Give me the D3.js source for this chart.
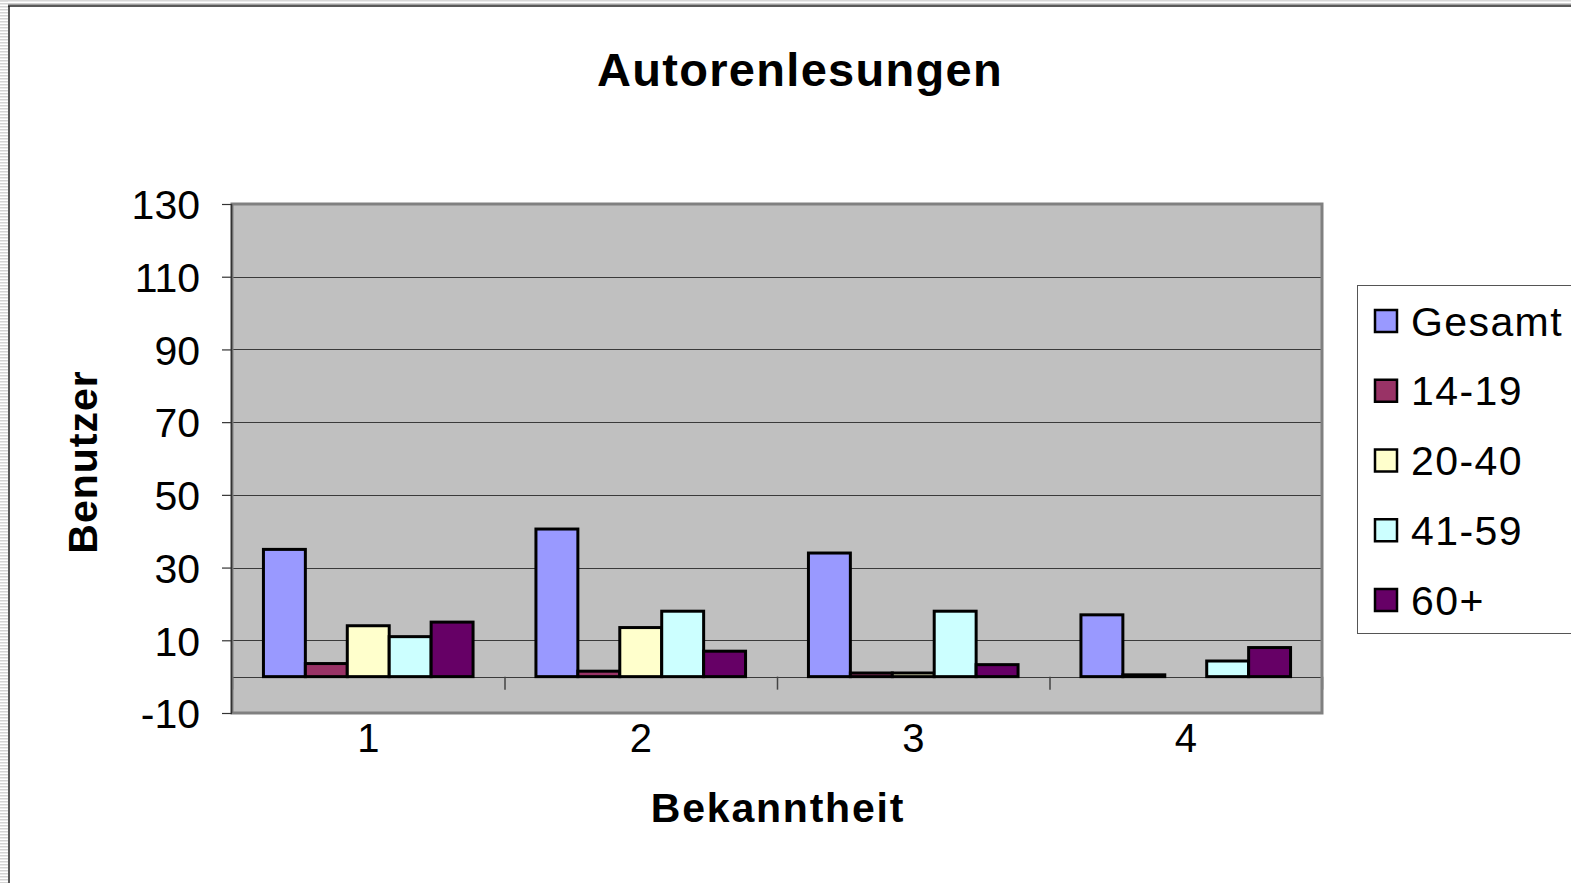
<!DOCTYPE html>
<html>
<head>
<meta charset="utf-8">
<script src="https://cdn.jsdelivr.net/npm/d3@7/dist/d3.min.js"></script>
<style>
  html, body { margin: 0; padding: 0; background: #fff; overflow: hidden; }
  svg { display: block; font-family: "Liberation Sans", Arial, sans-serif; }
</style>
</head>
<body>
<svg id="chart" width="1571" height="883"></svg>
<script>
// ---- data ----
const categories = ["1", "2", "3", "4"];
const seriesNames = ["Gesamt", "14-19", "20-40", "41-59", "60+"];
const seriesColors = ["#9999FF", "#993366", "#FFFFCC", "#CCFFFF", "#660066"];
const gesamt = [35, 40.6, 34, 17];
const age14_19 = [3.6, 1.5, 1, 0.5];
const age20_40 = [14, 13.5, 1, null];
const age41_59 = [11, 18, 18, 4.3];
const age60plus = [15, 7, 3.3, 8];
const yTicks = [-10, 10, 30, 50, 70, 90, 110, 130];
const titleText = "Autorenlesungen";
const xTitle = "Bekanntheit";
const yTitle = "Benutzer";

const seriesValues = [gesamt, age14_19, age20_40, age41_59, age60plus];
const series = seriesNames.map((name, i) => ({ name, color: seriesColors[i], values: seriesValues[i] }));

// ---- layout ----
const svg = d3.select("#chart");
const plot = { left: 232, right: 1322, top: 204, bottom: 713 };

// outer frame decoration
const defs = svg.append("defs");
const pat = defs.append("pattern").attr("id", "stripes").attr("width", 8).attr("height", 3)
  .attr("patternUnits", "userSpaceOnUse");
pat.append("rect").attr("width", 8).attr("height", 3).attr("fill", "#ffffff");
pat.append("rect").attr("width", 8).attr("height", 1.5).attr("fill", "#d4d4d4");
svg.append("rect").attr("x", 0).attr("y", 0).attr("width", 8).attr("height", 883).attr("fill", "url(#stripes)");
svg.append("rect").attr("x", 0).attr("y", 0).attr("width", 1571).attr("height", 1.5).attr("fill", "#d8d8d8");
svg.append("rect").attr("x", 8).attr("y", 3.5).attr("width", 1563).attr("height", 1.5).attr("fill", "#a0a0a0");
svg.append("line").attr("x1", 8).attr("x2", 1571).attr("y1", 6).attr("y2", 6).attr("stroke", "#222").attr("stroke-width", 1.5);
svg.append("line").attr("x1", 9).attr("x2", 9).attr("y1", 6).attr("y2", 883).attr("stroke", "#222").attr("stroke-width", 1.5);

// scales
const y = d3.scaleLinear().domain([-10, 130]).range([plot.bottom, plot.top]);
const x0 = d3.scaleBand().domain(categories).range([plot.left, plot.right])
  .paddingInner(1.5 / 6.5).paddingOuter(0.75 / 6.5);
const x1 = d3.scaleBand().domain(seriesNames).range([0, x0.bandwidth()]);
const xEdge = d3.scaleLinear().domain([0, categories.length]).range([plot.left, plot.right]);

// plot background
svg.append("rect").attr("x", plot.left).attr("y", plot.top)
  .attr("width", plot.right - plot.left).attr("height", plot.bottom - plot.top)
  .attr("fill", "#C0C0C0");

// gridlines
svg.append("g").selectAll("line").data(yTicks.filter(t => t > -10 && t < 130).concat([0]))
  .join("line")
  .attr("x1", plot.left).attr("x2", plot.right)
  .attr("y1", d => Math.round(y(d)) + 0.5).attr("y2", d => Math.round(y(d)) + 0.5)
  .attr("stroke", "#3a3a3a").attr("stroke-width", 1);

// category tick marks at the zero line
const catAxis = svg.append("g").attr("transform", `translate(0,${y(0)})`)
  .call(d3.axisBottom(xEdge).tickValues(d3.range(categories.length + 1)).tickSize(13).tickFormat(""));
catAxis.select(".domain").remove();
catAxis.selectAll("line").attr("stroke", "#444").attr("stroke-width", 1.5);

// bars
const groups = svg.append("g").selectAll("g").data(categories).join("g")
  .attr("transform", d => `translate(${x0(d)},0)`);
groups.selectAll("rect")
  .data((c, ci) => series.filter(s => s.values[ci] != null).map(s => ({ s, v: s.values[ci] })))
  .join("rect")
  .attr("x", d => x1(d.s.name))
  .attr("width", x1.bandwidth())
  .attr("y", d => y(Math.max(0, d.v)))
  .attr("height", d => Math.abs(y(d.v) - y(0)))
  .attr("fill", d => d.s.color)
  .attr("stroke", "#000").attr("stroke-width", 3).attr("stroke-linejoin", "miter");

// plot border
svg.append("rect").attr("x", plot.left).attr("y", plot.top)
  .attr("width", plot.right - plot.left).attr("height", plot.bottom - plot.top)
  .attr("fill", "none").attr("stroke", "#808080").attr("stroke-width", 3);
svg.append("line").attr("x1", plot.left - 0.5).attr("x2", plot.left - 0.5)
  .attr("y1", plot.top).attr("y2", plot.bottom).attr("stroke", "#333").attr("stroke-width", 1.5);

// y axis
const yAxis = svg.append("g").attr("transform", `translate(${plot.left},0)`)
  .call(d3.axisLeft(y).tickValues(yTicks).tickSize(10).tickPadding(22).tickFormat(d => String(d)));
yAxis.select(".domain").remove();
yAxis.selectAll("line").attr("stroke", "#333").attr("stroke-width", 1.2);
yAxis.selectAll("text").attr("font-size", 41).attr("fill", "#000")
  .attr("font-family", "'Liberation Sans', Arial, sans-serif").attr("dy", "0.36em");

// x axis labels
const xAxis = svg.append("g").attr("transform", `translate(0,${plot.bottom})`)
  .call(d3.axisBottom(x0).tickSize(0).tickPadding(11));
xAxis.select(".domain").remove();
xAxis.selectAll("text").attr("font-size", 40).attr("fill", "#000")
  .attr("font-family", "'Liberation Sans', Arial, sans-serif");

// titles
svg.append("text").attr("x", 800).attr("y", 86).attr("text-anchor", "middle")
  .attr("font-size", 47).attr("font-weight", "bold").attr("letter-spacing", 1.3).text(titleText);
svg.append("text").attr("x", 778).attr("y", 822).attr("text-anchor", "middle")
  .attr("font-size", 41).attr("font-weight", "bold").attr("letter-spacing", 1.8).text(xTitle);
svg.append("text").attr("transform", "translate(97,462) rotate(-90)").attr("text-anchor", "middle")
  .attr("font-size", 41).attr("font-weight", "bold").attr("letter-spacing", 1).text(yTitle);

// legend
const legend = svg.append("g");
legend.append("rect").attr("x", 1357.5).attr("y", 285.5).attr("width", 240).attr("height", 348)
  .attr("fill", "#fff").attr("stroke", "#555").attr("stroke-width", 1);
const rowY = d3.scalePoint().domain(seriesNames).range([321, 600]);
const items = legend.selectAll("g.item").data(series).join("g").attr("class", "item")
  .attr("transform", d => `translate(1375,${rowY(d.name)})`);
items.append("rect").attr("x", 0).attr("y", -11).attr("width", 22).attr("height", 22)
  .attr("fill", d => d.color).attr("stroke", "#000").attr("stroke-width", 2.5);
items.append("text").attr("x", 36).attr("y", 14.5).attr("font-size", 41).attr("letter-spacing", 1.4)
  .attr("fill", "#000").text(d => d.name);
</script>
</body>
</html>
